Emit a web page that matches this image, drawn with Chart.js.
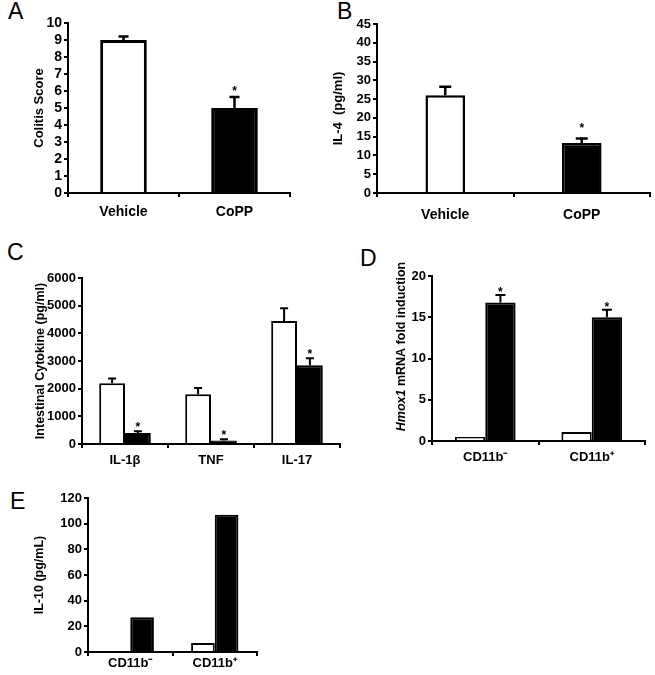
<!DOCTYPE html>
<html>
<head>
<meta charset="utf-8">
<script src="https://cdn.jsdelivr.net/npm/chart.js@4.4.1/dist/chart.umd.min.js"></script>
<style>
    body { margin: 0; background: #fff; width: 655px; height: 675px; position: relative; overflow: hidden; font-family: 'Liberation Sans', Arial, sans-serif; }
    canvas, .letter { position: absolute; }
    .letter { font-size: 23px; line-height: 1; color: #000; }
</style>
</head>
<body>
<div class="letter" style="left:8px;top:0px">A</div>
<div class="letter" style="left:337px;top:0px">B</div>
<div class="letter" style="left:7px;top:241px">C</div>
<div class="letter" style="left:360px;top:247px">D</div>
<div class="letter" style="left:10px;top:490px">E</div>

<canvas id="canvas_A" width="330" height="225" style="left:0px;top:0px"></canvas>
<canvas id="canvas_B" width="325" height="225" style="left:330px;top:0px"></canvas>
<canvas id="canvas_C" width="345" height="250" style="left:0px;top:225px"></canvas>
<canvas id="canvas_D" width="310" height="250" style="left:345px;top:225px"></canvas>
<canvas id="canvas_E" width="330" height="200" style="left:0px;top:475px"></canvas>

<script>
    // valores
    const labelsTratamento = ['Vehicle', 'CoPP'];
    const colitisScore = [9.0, 5.0];
    const colitisErro = [0.2, 0.65];
    const il4 = [26.0, 13.3];
    const il4Erro = [2.3, 1.2];

    const labelsCitocina = ['IL-1β', 'TNF', 'IL-17'];
    const citocinaVehicle = [2200, 1800, 4450];
    const citocinaVehicleErro = [170, 220, 460];
    const citocinaCoPP = [400, 130, 2850];
    const citocinaCoPPErro = [60, 40, 250];

    const labelsCD11b = ['CD11b⁻', 'CD11b⁺'];
    const hmoxVehicle = [0.5, 1.1];
    const hmoxCoPP = [16.8, 15.0];
    const hmoxCoPPErro = [0.9, 0.9];

    const il10Vehicle = [0, 7];
    const il10CoPP = [27, 107];

    const fam = "'Liberation Sans', Arial, sans-serif";
    Chart.defaults.font.family = fam;
    Chart.defaults.color = '#000';

    // barras de erro e asteriscos
    const errorBars = {
        id: 'errorBars',
        afterDatasetsDraw(chart, args, opts) {
            const ctx = chart.ctx;
            const y = chart.scales.y;
            chart.data.datasets.forEach((ds, i) => {
                const meta = chart.getDatasetMeta(i);
                meta.data.forEach((bar, j) => {
                    const err = ds.errors ? ds.errors[j] : 0;
                    const top = y.getPixelForValue(ds.data[j] + err);
                    ctx.save();
                    ctx.strokeStyle = '#000';
                    ctx.lineWidth = opts.width;
                    if (err > 0) {
                        ctx.beginPath();
                        ctx.moveTo(bar.x, bar.y);
                        ctx.lineTo(bar.x, top);
                        ctx.moveTo(bar.x - opts.cap, top);
                        ctx.lineTo(bar.x + opts.cap, top);
                        ctx.stroke();
                    }
                    if (ds.stars && ds.stars[j]) {
                        ctx.fillStyle = '#000';
                        ctx.font = 'bold 12px ' + fam;
                        ctx.textAlign = 'center';
                        ctx.textBaseline = 'alphabetic';
                        ctx.fillText('*', bar.x, top - opts.starGap + 7);
                    }
                    ctx.restore();
                });
            });
        }
    };

    // título do eixo do painel D (Hmox1 em itálico)
    const tituloD = {
        id: 'tituloD',
        afterDraw(chart) {
            const ctx = chart.ctx;
            const area = chart.chartArea;
            const parte1 = 'Hmox1';
            const parte2 = ' mRNA fold induction';
            ctx.save();
            ctx.translate(area.left - 30, (area.top + area.bottom) / 2 - 12);
            ctx.rotate(-Math.PI / 2);
            ctx.fillStyle = '#000';
            ctx.textBaseline = 'middle';
            ctx.textAlign = 'left';
            ctx.font = 'italic bold 12.5px ' + fam;
            const w1 = ctx.measureText(parte1).width;
            ctx.font = 'bold 12.5px ' + fam;
            const w2 = ctx.measureText(parte2).width;
            const x0 = -(w1 + w2) / 2;
            ctx.font = 'italic bold 12.5px ' + fam;
            ctx.fillText(parte1, x0, 0);
            ctx.font = 'bold 12.5px ' + fam;
            ctx.fillText(parte2, x0 + w1, 0);
            ctx.restore();
        }
    };

    function criarGrafico(id, labels, datasets, o) {
        return new Chart(document.getElementById(id), {
            type: 'bar',
            data: { labels: labels, datasets: datasets },
            options: {
                responsive: false,
                animation: false,
                layout: { padding: { top: o.padTop, right: o.padRight, left: 0, bottom: 0 } },
                plugins: {
                    legend: { display: false },
                    tooltip: { enabled: false },
                    errorBars: { width: o.errWidth, cap: o.cap, starGap: o.starGap }
                },
                scales: {
                    x: {
                        grid: { drawOnChartArea: false, color: '#000', lineWidth: 2, tickLength: 4, offset: true },
                        border: { color: '#000', width: 2 },
                        ticks: { color: '#000', font: { size: o.xFont, weight: 'bold' }, padding: o.xPad, maxRotation: 0 },
                        afterFit: s => { s.height = o.xHeight; }
                    },
                    y: {
                        min: 0,
                        max: o.max,
                        ticks: {
                            stepSize: o.step,
                            autoSkip: false,
                            color: '#000',
                            font: { size: o.yFont, weight: 'bold' },
                            padding: 2,
                            callback: v => String(v)
                        },
                        grid: { drawOnChartArea: false, color: '#000', lineWidth: 2, tickLength: 4 },
                        border: { color: '#000', width: 2 },
                        title: {
                            display: !!o.title,
                            text: o.title,
                            color: '#000',
                            font: { size: o.titleFont, weight: 'bold' },
                            padding: { top: o.titlePad, bottom: 0 }
                        },
                        afterFit: s => { s.width = o.yWidth; }
                    }
                }
            },
            plugins: o.extra ? [errorBars, o.extra] : [errorBars]
        });
    }

    // A
    criarGrafico('canvas_A', labelsTratamento, [{
        data: colitisScore,
        errors: colitisErro,
        stars: [false, true],
        backgroundColor: ['#fff', '#000'],
        borderColor: '#000',
        borderWidth: 3,
        categoryPercentage: 1,
        barPercentage: 0.42
    }], { padTop: 23, padRight: 40, xHeight: 32, yWidth: 68, max: 10, step: 1, xFont: 14, yFont: 14,
          xPad: 7, title: 'Colitis Score', titleFont: 13, titlePad: 32, errWidth: 2.5, cap: 5, starGap: 9 });

    // B
    criarGrafico('canvas_B', labelsTratamento, [{
        data: il4,
        errors: il4Erro,
        stars: [false, true],
        backgroundColor: ['#fff', '#000'],
        borderColor: '#000',
        borderWidth: 2.5,
        categoryPercentage: 1,
        barPercentage: 0.29
    }], { padTop: 24, padRight: 5, xHeight: 32, yWidth: 47, max: 45, step: 5, xFont: 14, yFont: 13,
          xPad: 10, title: 'IL-4  (pg/ml)', titleFont: 13, titlePad: 1, errWidth: 2.5, cap: 6, starGap: 14 });

    // C
    criarGrafico('canvas_C', labelsCitocina, [{
        data: citocinaVehicle,
        errors: citocinaVehicleErro,
        backgroundColor: '#fff',
        borderColor: '#000',
        borderWidth: 2,
        categoryPercentage: 0.6,
        barPercentage: 1
    }, {
        data: citocinaCoPP,
        errors: citocinaCoPPErro,
        stars: [true, true, true],
        backgroundColor: '#000',
        borderColor: '#000',
        borderWidth: 2,
        categoryPercentage: 0.6,
        barPercentage: 1
    }], { padTop: 53, padRight: 5, xHeight: 31, yWidth: 82, max: 6000, step: 1000, xFont: 13, yFont: 13,
          xPad: 5, title: 'Intestinal Cytokine (pg/ml)', titleFont: 12.5, titlePad: 33, errWidth: 2, cap: 4, starGap: 7 });

    // D
    criarGrafico('canvas_D', labelsCD11b, [{
        data: hmoxVehicle,
        backgroundColor: '#fff',
        borderColor: '#000',
        borderWidth: 2,
        categoryPercentage: 0.57,
        barPercentage: 1
    }, {
        data: hmoxCoPP,
        errors: hmoxCoPPErro,
        stars: [true, true],
        backgroundColor: '#000',
        borderColor: '#000',
        borderWidth: 2,
        categoryPercentage: 0.57,
        barPercentage: 1
    }], { padTop: 51, padRight: 10, xHeight: 34, yWidth: 87, max: 20, step: 5, xFont: 13, yFont: 13,
          xPad: 5, title: '', titleFont: 12, titlePad: 0, errWidth: 2, cap: 5, starGap: 6, extra: tituloD });

    // E
    criarGrafico('canvas_E', labelsCD11b, [{
        data: il10Vehicle,
        backgroundColor: '#fff',
        borderColor: '#000',
        borderWidth: 2,
        categoryPercentage: 0.56,
        barPercentage: 1
    }, {
        data: il10CoPP,
        backgroundColor: '#000',
        borderColor: '#000',
        borderWidth: 2,
        categoryPercentage: 0.56,
        barPercentage: 1
    }], { padTop: 23, padRight: 73, xHeight: 23, yWidth: 88, max: 120, step: 20, xFont: 13, yFont: 13,
          xPad: 0, title: 'IL-10 (pg/mL)', titleFont: 12.5, titlePad: 32, errWidth: 2, cap: 4, starGap: 6 });
</script>
</body>
</html>
